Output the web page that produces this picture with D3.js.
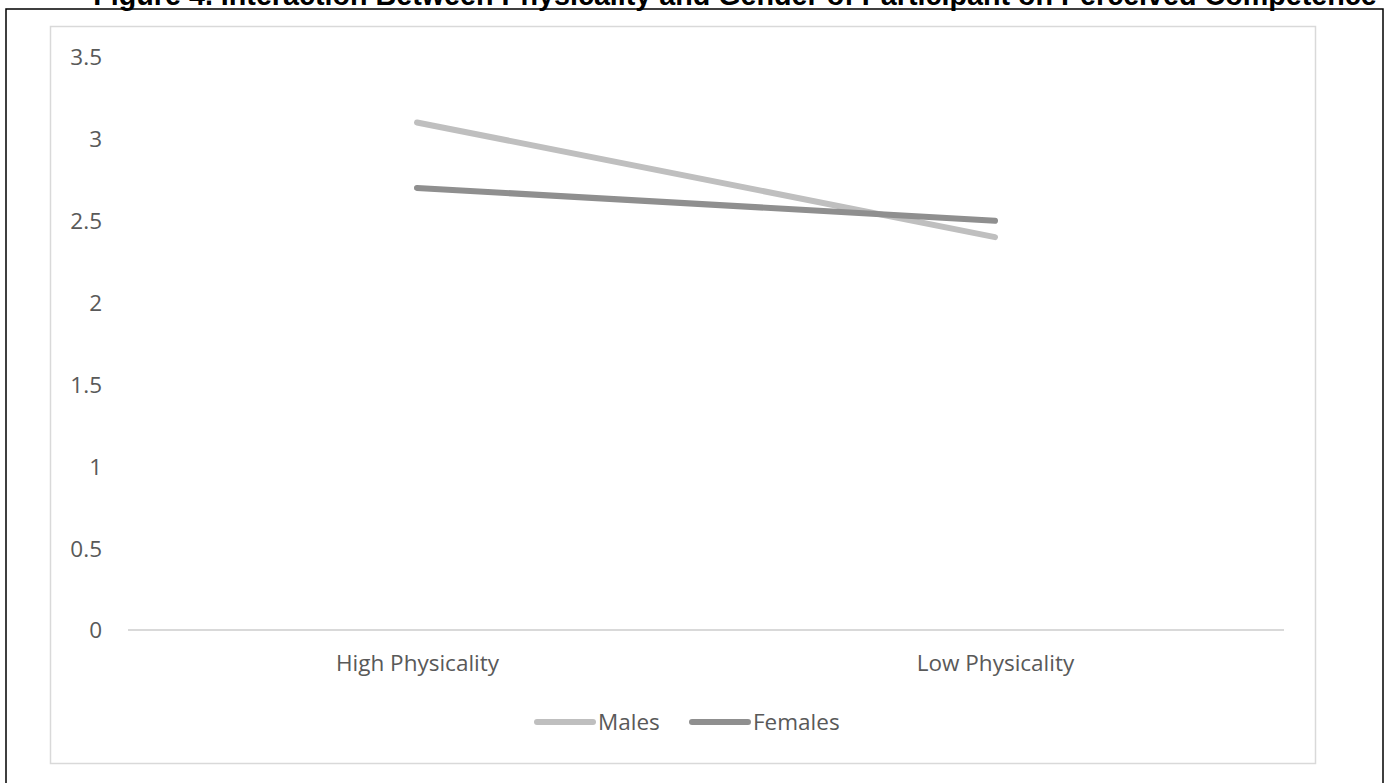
<!DOCTYPE html>
<html>
<head>
<meta charset="utf-8">
<script src="https://cdn.jsdelivr.net/npm/d3@7/dist/d3.min.js"></script>
<style>
  html, body { margin: 0; padding: 0; background: #fff; }
  svg { display: block; }
</style>
</head>
<body>
<svg id="chart" width="1389" height="783"></svg>
<script>
const title = "Figure 4. Interaction Between Physicality and Gender of Participant on Perceived Competence";
const categories = ["High Physicality", "Low Physicality"];
const seriesNames = ["Males", "Females"];
const malesValues = [3.1, 2.4];
const femalesValues = [2.7, 2.5];
const yTicks = [0, 0.5, 1, 1.5, 2, 2.5, 3, 3.5];
const seriesColors = ["#bfbfbf", "#8f8f8f"];

const series = [
  { name: seriesNames[0], values: malesValues, color: seriesColors[0] },
  { name: seriesNames[1], values: femalesValues, color: seriesColors[1] }
];

const svg = d3.select("#chart");
const W = 1389, H = 783;
const font = "'Open Sans', 'Noto Sans', sans-serif";
const fs = 22.5;

// outer black frame (bottom goes past the image)
svg.append("path")
  .attr("d", `M6,${H + 5} L6,9 L1383,9 L1383,${H + 5}`)
  .attr("fill", "none").attr("stroke", "#000").attr("stroke-width", 1.5);

// title (clipped at top, as in the source)
svg.append("text")
  .attr("x", 735).attr("y", 5)
  .attr("text-anchor", "middle")
  .attr("font-family", "'Liberation Sans', Arial, sans-serif")
  .attr("font-weight", "bold")
  .attr("font-size", 28.7)
  .attr("fill", "#000")
  .text(title);

// chart area border
svg.append("rect")
  .attr("x", 50.5).attr("y", 26.5).attr("width", 1265).attr("height", 737)
  .attr("fill", "#fff").attr("stroke", "#d9d9d9").attr("stroke-width", 1.5);

const margin = { left: 128, right: 1284, top: 57, bottom: 630 };
const x = d3.scalePoint().domain(categories).range([margin.left, margin.right]).padding(0.5);
const y = d3.scaleLinear().domain([0, 3.5]).range([margin.bottom, margin.top]);

// y axis (labels only)
const yAxis = svg.append("g")
  .attr("transform", `translate(${102},0)`)
  .call(d3.axisLeft(y).tickValues(yTicks).tickSize(0).tickPadding(0).tickFormat(d3.format("")));
yAxis.select(".domain").remove();
yAxis.selectAll("text")
  .attr("font-family", font).attr("font-size", fs).attr("fill", "#595959")
  .attr("dy", "0.35em");

// x axis
const xAxis = svg.append("g")
  .attr("transform", `translate(0,${margin.bottom})`)
  .call(d3.axisBottom(x).tickSize(0).tickPadding(25));
xAxis.select(".domain")
  .attr("d", `M${margin.left},0H${margin.right}`)
  .attr("stroke", "#d9d9d9").attr("stroke-width", 2);
xAxis.selectAll("text")
  .attr("font-family", font).attr("font-size", fs).attr("fill", "#595959");

// lines
const line = d3.line().x((d, i) => x(categories[i])).y(d => y(d));
svg.append("g").selectAll("path")
  .data(series)
  .join("path")
  .attr("d", d => line(d.values))
  .attr("fill", "none")
  .attr("stroke", d => d.color)
  .attr("stroke-width", 6)
  .attr("stroke-linecap", "round")
  .attr("stroke-linejoin", "round");

// legend
const legendItems = [
  { s: series[0], x0: 537 },
  { s: series[1], x0: 692 }
];
const lg = svg.append("g");
legendItems.forEach(it => {
  lg.append("line")
    .attr("x1", it.x0).attr("x2", it.x0 + 56)
    .attr("y1", 722).attr("y2", 722)
    .attr("stroke", it.s.color).attr("stroke-width", 6).attr("stroke-linecap", "round");
  lg.append("text")
    .attr("x", it.x0 + 61).attr("y", 722).attr("dy", "0.35em")
    .attr("font-family", font).attr("font-size", fs).attr("fill", "#595959")
    .text(it.s.name);
});
</script>
</body>
</html>
